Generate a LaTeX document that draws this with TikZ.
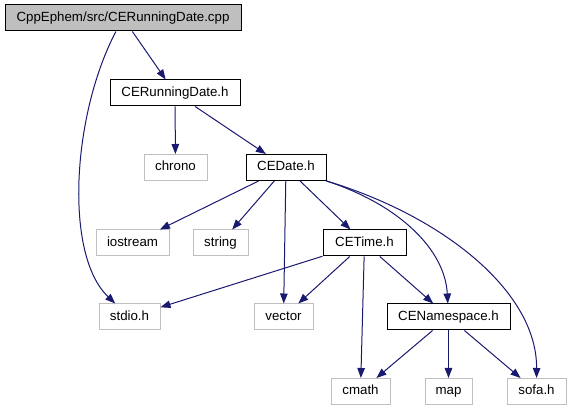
\documentclass[tikz,border=0pt]{standalone}
\usepackage{fontspec}
\setmainfont{Liberation Sans}
\usetikzlibrary{arrows.meta}
\definecolor{edgeblue}{RGB}{25,25,112}
\definecolor{sysgray}{RGB}{191,191,191}

\begin{document}
\begin{tikzpicture}[x=1pt, y=-1pt,
    box/.style={draw=black, line width=1pt, minimum height=26pt, inner sep=0pt,
        text height=9.6pt, text depth=2.8pt, font=\fontsize{13.3}{16}\selectfont},
    sysbox/.style={box, draw=sysgray},
    edge/.style={draw=edgeblue, line width=1pt, -{Triangle[length=10pt,width=7.5pt]}}]
    \useasboundingbox (0,0) rectangle (571,411);

    % Source file
    \node[box, fill=sysgray, minimum width=236pt] (cpp) at (123,18) {CppEphem/src/CERunningDate.cpp};

    % Project headers
    \foreach \n/\x/\y/\w/\t in {runh/175/93/130/CERunningDate.h, dateh/286/167.5/80/CEDate.h,
                               timeh/364.5/243/83/CETime.h, nsh/448.5/317/123/CENamespace.h}
        \node[box, minimum width=\w pt] (\n) at (\x,\y) {\t};

    % System headers
    \foreach \n/\x/\y/\w/\t in {chrono/175.5/167.5/63/chrono, iostream/132.5/243/73/iostream,
                               string/220.5/243/55/string, stdio/129.5/317/61/stdio.h,
                               vector/283.5/317/59/vector, cmath/360.5/391.5/59/cmath,
                               map/448.5/391.5/47/map, sofa/536.5/391.5/59/sofa.h}
        \node[sysbox, minimum width=\w pt] (\n) at (\x,\y) {\t};

    % Includes
    \foreach \a/\b in {cpp/runh, runh/chrono, runh/dateh, dateh/iostream, dateh/string,
                       dateh/vector, dateh/timeh, timeh/stdio, timeh/vector, timeh/cmath,
                       timeh/nsh, nsh/cmath, nsh/map, nsh/sofa}
        \draw[edge] (\a) -- (\b);
    \draw[edge] (cpp) .. controls (72,115) and (64,255) .. (stdio);
    \draw[edge] (dateh.south east) .. controls (400,205) and (445,250) .. (nsh);
    \draw[edge] (dateh.south east) .. controls (440,215) and (537,290) .. (sofa);
\end{tikzpicture}
\end{document}
